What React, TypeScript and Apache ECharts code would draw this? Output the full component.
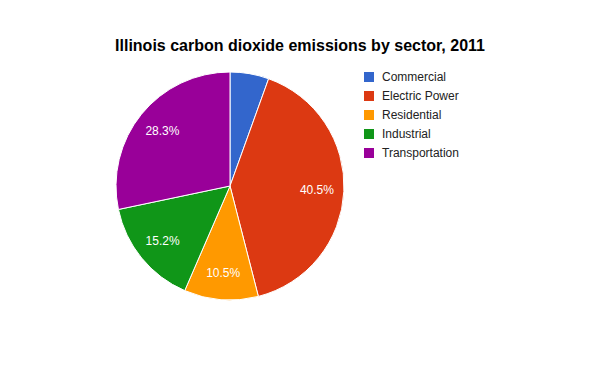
import React, { useEffect, useRef } from "react";
import * as echarts from "echarts";

const categories = ["Commercial", "Electric Power", "Residential", "Industrial", "Transportation"];
const values = [5.5, 40.5, 10.5, 15.2, 28.3];
const colors = ["#3366cc", "#dc3912", "#ff9900", "#109618", "#990099"];

export default function App() {
  const ref = useRef<HTMLDivElement>(null);
  useEffect(() => {
    document.body.style.margin = "0";
    const chart = echarts.init(ref.current!, null, { renderer: "svg" });
    const data = categories.map((name, i) => ({ name, value: values[i] }));
    chart.setOption({
      animation: false,
      color: colors,
      title: {
        text: "Illinois carbon dioxide emissions by sector, 2011",
        left: "center",
        top: 32,
        textStyle: { fontFamily: "Liberation Sans, Arial", fontSize: 16, fontWeight: "bold", color: "#000" },
      },
      legend: {
        orient: "vertical",
        left: 362,
        top: 70,
        padding: 0,
        itemWidth: 12,
        itemHeight: 12,
        itemGap: 5,
        icon: "rect",
        data: categories,
        textStyle: { fontFamily: "Liberation Sans, Arial", fontSize: 12, color: "#222", padding: [0, 0, 0, 2] },
      },
      series: [
        {
          type: "pie",
          center: [230, 186],
          radius: [0, 114],
          startAngle: 90,
          clockwise: true,
          data,
          itemStyle: { borderColor: "#fff", borderWidth: 1 },
          label: { show: false },
          labelLine: { show: false },
          silent: true,
        },
        {
          type: "pie",
          center: [230, 186],
          radius: [54, 114],
          startAngle: 90,
          clockwise: true,
          data,
          silent: true,
          legendHoverLink: false,
          itemStyle: { color: "transparent", borderWidth: 0 },
          label: {
            show: true,
            position: "inside",
            formatter: (p: any) => (p.value >= 10 ? p.value.toFixed(1) + "%" : ""),
            color: "#fff",
            fontSize: 12,
            fontFamily: "Liberation Sans, Arial",
          },
          labelLine: { show: false },
        },
      ],
    });
    return () => chart.dispose();
  }, []);
  return <div ref={ref} style={{ width: 600, height: 371 }} />;
}
